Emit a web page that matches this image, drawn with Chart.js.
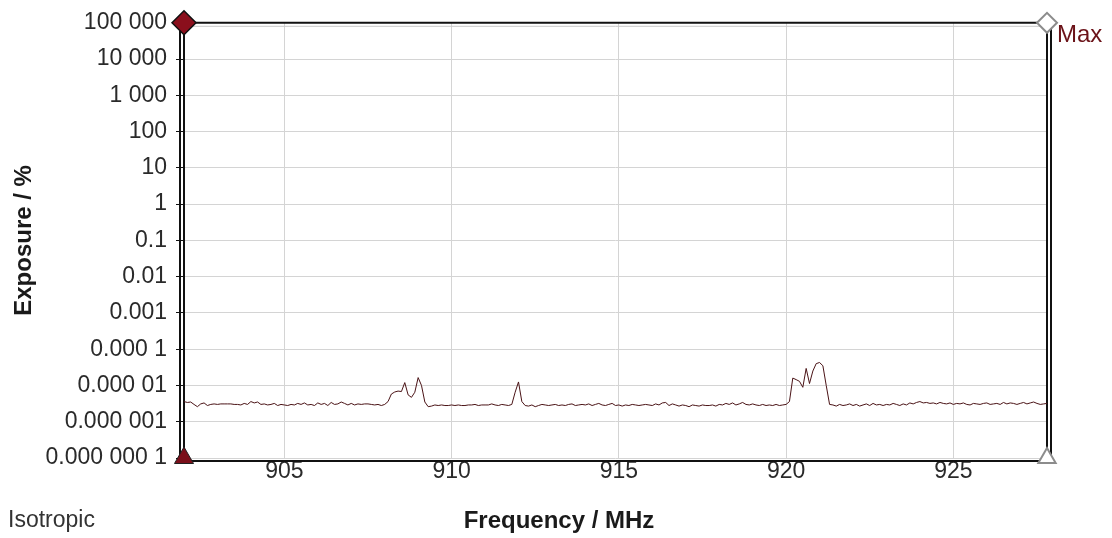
<!DOCTYPE html>
<html lang="en">
  <head>
    <meta charset="UTF-8" />
    <title>Exposure / % vs Frequency / MHz</title>
    <script src="https://cdn.jsdelivr.net/npm/chart.js"></script>
    <style>
      html, body { margin: 0; padding: 0; background: #fff; }
      .chart-container { position: relative; width: 1112px; height: 538px; }
    </style>
  </head>
  <body>
    <div class="chart-container">
      <canvas id="exposureChart"></canvas>
    </div>

    <script>
      // frequency points, MHz
      var freq = [
        902.0, 902.1, 902.2, 902.3, 902.4, 902.5, 902.6, 902.7, 902.8, 902.9,
        903.0, 903.1, 903.2, 903.3, 903.4, 903.5, 903.6, 903.7, 903.8, 903.9,
        904.0, 904.1, 904.2, 904.3, 904.4, 904.5, 904.6, 904.7, 904.8, 904.9,
        905.0, 905.1, 905.2, 905.3, 905.4, 905.5, 905.6, 905.7, 905.8, 905.9,
        906.0, 906.1, 906.2, 906.3, 906.4, 906.5, 906.6, 906.7, 906.8, 906.9,
        907.0, 907.1, 907.2, 907.3, 907.4, 907.5, 907.6, 907.7, 907.8, 907.9,
        908.0, 908.1, 908.2, 908.3, 908.4, 908.5, 908.6, 908.7, 908.8, 908.9,
        909.0, 909.1, 909.2, 909.3, 909.4, 909.5, 909.6, 909.7, 909.8, 909.9,
        910.0, 910.1, 910.2, 910.3, 910.4, 910.5, 910.6, 910.7, 910.8, 910.9,
        911.0, 911.1, 911.2, 911.3, 911.4, 911.5, 911.6, 911.7, 911.8, 911.9,
        912.0, 912.1, 912.2, 912.3, 912.4, 912.5, 912.6, 912.7, 912.8, 912.9,
        913.0, 913.1, 913.2, 913.3, 913.4, 913.5, 913.6, 913.7, 913.8, 913.9,
        914.0, 914.1, 914.2, 914.3, 914.4, 914.5, 914.6, 914.7, 914.8, 914.9,
        915.0, 915.1, 915.2, 915.3, 915.4, 915.5, 915.6, 915.7, 915.8, 915.9,
        916.0, 916.1, 916.2, 916.3, 916.4, 916.5, 916.6, 916.7, 916.8, 916.9,
        917.0, 917.1, 917.2, 917.3, 917.4, 917.5, 917.6, 917.7, 917.8, 917.9,
        918.0, 918.1, 918.2, 918.3, 918.4, 918.5, 918.6, 918.7, 918.8, 918.9,
        919.0, 919.1, 919.2, 919.3, 919.4, 919.5, 919.6, 919.7, 919.8, 919.9,
        920.0, 920.1, 920.2, 920.3, 920.4, 920.5, 920.6, 920.7, 920.8, 920.9,
        921.0, 921.1, 921.2, 921.3, 921.4, 921.5, 921.6, 921.7, 921.8, 921.9,
        922.0, 922.1, 922.2, 922.3, 922.4, 922.5, 922.6, 922.7, 922.8, 922.9,
        923.0, 923.1, 923.2, 923.3, 923.4, 923.5, 923.6, 923.7, 923.8, 923.9,
        924.0, 924.1, 924.2, 924.3, 924.4, 924.5, 924.6, 924.7, 924.8, 924.9,
        925.0, 925.1, 925.2, 925.3, 925.4, 925.5, 925.6, 925.7, 925.8, 925.9,
        926.0, 926.1, 926.2, 926.3, 926.4, 926.5, 926.6, 926.7, 926.8, 926.9,
        927.0, 927.1, 927.2, 927.3, 927.4, 927.5, 927.6, 927.7, 927.8
      ];

      // max exposure, %
      var exposure = [
        3.6e-6, 3.4e-6, 3.5e-6, 3.0e-6, 2.6e-6, 3.1e-6, 3.3e-6, 2.8e-6, 3.0e-6, 3.1e-6,
        3.0e-6, 3.1e-6, 3.1e-6, 3.1e-6, 3.1e-6, 3.0e-6, 3.0e-6, 2.9e-6, 3.2e-6, 3.0e-6,
        3.6e-6, 3.3e-6, 3.5e-6, 3.0e-6, 3.1e-6, 2.9e-6, 3.0e-6, 3.2e-6, 2.8e-6, 3.0e-6,
        2.9e-6, 2.8e-6, 3.0e-6, 2.9e-6, 3.2e-6, 3.0e-6, 3.3e-6, 2.9e-6, 3.0e-6, 2.8e-6,
        3.3e-6, 3.0e-6, 3.2e-6, 2.8e-6, 3.4e-6, 3.0e-6, 3.1e-6, 3.5e-6, 3.2e-6, 2.9e-6,
        3.2e-6, 2.9e-6, 3.1e-6, 3.0e-6, 3.1e-6, 3.1e-6, 3.0e-6, 2.9e-6, 3.0e-6, 2.8e-6,
        3.0e-6, 3.6e-6, 5.8e-6, 6.6e-6, 7.0e-6, 6.8e-6, 12.0e-6, 5.5e-6, 4.7e-6, 6.5e-6,
        16.5e-6, 10.0e-6, 3.5e-6, 2.6e-6, 2.7e-6, 2.9e-6, 2.8e-6, 2.9e-6, 2.8e-6, 2.8e-6,
        2.9e-6, 2.8e-6, 2.9e-6, 2.8e-6, 2.8e-6, 2.9e-6, 2.9e-6, 3.0e-6, 2.8e-6, 2.9e-6,
        2.9e-6, 2.9e-6, 3.1e-6, 2.9e-6, 2.8e-6, 3.0e-6, 2.9e-6, 2.8e-6, 3.0e-6, 6.5e-6,
        12.5e-6, 3.6e-6, 2.8e-6, 2.7e-6, 2.9e-6, 2.6e-6, 2.8e-6, 3.0e-6, 2.9e-6, 2.8e-6,
        2.9e-6, 3.0e-6, 2.8e-6, 2.9e-6, 2.8e-6, 3.0e-6, 3.1e-6, 2.8e-6, 2.9e-6, 3.0e-6,
        2.9e-6, 3.1e-6, 2.8e-6, 3.0e-6, 3.2e-6, 2.9e-6, 2.8e-6, 3.0e-6, 3.2e-6, 2.8e-6,
        2.9e-6, 2.7e-6, 2.9e-6, 2.8e-6, 3.0e-6, 2.9e-6, 2.8e-6, 2.9e-6, 3.0e-6, 2.9e-6,
        2.8e-6, 3.1e-6, 2.9e-6, 3.3e-6, 3.4e-6, 2.8e-6, 3.1e-6, 2.9e-6, 2.7e-6, 2.9e-6,
        2.8e-6, 2.6e-6, 2.9e-6, 2.8e-6, 2.7e-6, 2.9e-6, 2.8e-6, 2.8e-6, 2.9e-6, 2.7e-6,
        3.0e-6, 2.9e-6, 3.2e-6, 3.0e-6, 3.3e-6, 2.9e-6, 3.1e-6, 3.4e-6, 3.0e-6, 2.9e-6,
        3.1e-6, 2.9e-6, 2.8e-6, 3.0e-6, 2.8e-6, 2.9e-6, 2.8e-6, 3.0e-6, 2.8e-6, 2.9e-6,
        3.0e-6, 3.6e-6, 16.0e-6, 14.5e-6, 13.0e-6, 8.9e-6, 29.5e-6, 11.3e-6, 25.0e-6, 40.0e-6,
        43.0e-6, 35.0e-6, 10.0e-6, 3.0e-6, 2.9e-6, 2.7e-6, 3.0e-6, 2.8e-6, 2.9e-6, 3.1e-6,
        2.8e-6, 3.0e-6, 2.7e-6, 2.9e-6, 3.1e-6, 2.8e-6, 3.2e-6, 2.9e-6, 3.0e-6, 2.8e-6,
        3.0e-6, 2.9e-6, 3.2e-6, 3.0e-6, 2.8e-6, 3.1e-6, 2.9e-6, 3.3e-6, 3.1e-6, 3.4e-6,
        3.6e-6, 3.3e-6, 3.4e-6, 3.2e-6, 3.3e-6, 3.1e-6, 3.4e-6, 3.2e-6, 3.1e-6, 3.3e-6,
        3.0e-6, 3.2e-6, 3.1e-6, 3.3e-6, 3.0e-6, 2.9e-6, 3.2e-6, 3.1e-6, 3.0e-6, 3.2e-6,
        3.3e-6, 3.0e-6, 3.1e-6, 3.2e-6, 3.0e-6, 3.4e-6, 3.1e-6, 3.3e-6, 3.2e-6, 3.0e-6,
        3.2e-6, 3.4e-6, 3.1e-6, 3.3e-6, 3.5e-6, 3.2e-6, 3.0e-6, 3.1e-6, 3.2e-6
      ];

      var xTickValues = [905, 910, 915, 920, 925];
      var yTickValues = [1e5, 1e4, 1e3, 100, 10, 1, 0.1, 0.01, 0.001, 1e-4, 1e-5, 1e-6, 1e-7];
      var yTickLabels = [
        "100 000", "10 000", "1 000", "100", "10", "1", "0.1", "0.01",
        "0.001", "0.000 1", "0.000 01", "0.000 001", "0.000 000 1"
      ];

      // cursor markers: start/stop frequency, top/bottom level
      var cursorFreq = [902.0, 927.8];
      var cursorLevel = [1e5, 1e-7];

      var FONT = "'Liberation Sans', Arial, sans-serif";

      var framePlugin = {
        id: "frame",
        beforeDatasetsDraw: function (chart) {
          var ctx = chart.ctx;
          var a = chart.chartArea;
          ctx.save();
          ctx.strokeStyle = "#111";
          ctx.lineWidth = 2;
          ctx.beginPath();
          // top
          ctx.moveTo(a.left - 4, a.top);
          ctx.lineTo(a.right + 4, a.top);
          // bottom
          ctx.moveTo(a.left - 4, a.bottom + 3);
          ctx.lineTo(a.right + 4, a.bottom + 3);
          // left double
          ctx.moveTo(a.left - 4, a.top);
          ctx.lineTo(a.left - 4, a.bottom + 3);
          ctx.moveTo(a.left, a.top);
          ctx.lineTo(a.left, a.bottom + 3);
          // right double
          ctx.moveTo(a.right, a.top);
          ctx.lineTo(a.right, a.bottom + 3);
          ctx.moveTo(a.right + 4, a.top);
          ctx.lineTo(a.right + 4, a.bottom + 3);
          ctx.stroke();
          ctx.strokeStyle = "#c8c8c8";
          ctx.lineWidth = 1;
          ctx.beginPath();
          ctx.moveTo(a.left, a.top + 3.5);
          ctx.lineTo(a.right, a.top + 3.5);
          ctx.stroke();
          ctx.restore();
        },
        afterDraw: function (chart) {
          var ctx = chart.ctx;
          var a = chart.chartArea;
          ctx.save();
          ctx.textBaseline = "middle";
          ctx.fillStyle = "#6b1218";
          ctx.font = "24px " + FONT;
          ctx.textAlign = "left";
          ctx.fillText("Max", a.right + 10, a.top + 13);
          ctx.fillStyle = "#333";
          ctx.font = "23px " + FONT;
          ctx.fillText("Isotropic", 8, 521);
          ctx.fillStyle = "#1a1a1a";
          ctx.font = "bold 24px " + FONT;
          ctx.textAlign = "center";
          ctx.fillText("Frequency / MHz", 559, 521);
          ctx.restore();
        },
      };

      var ctx = document.getElementById("exposureChart").getContext("2d");
      var exposureChart = new Chart(ctx, {
        type: "line",
        data: {
          labels: freq,
          datasets: [
            {
              type: "scatter",
              label: "Start cursor",
              data: [{ x: cursorFreq[0], y: cursorLevel[0] }],
              pointStyle: "rectRot",
              pointRadius: 12,
              backgroundColor: "#8a0f1c",
              borderColor: "#111",
              borderWidth: 1.5,
              clip: false,
              order: 0,
            },
            {
              type: "scatter",
              label: "Start cursor low",
              data: [{ x: cursorFreq[0], y: cursorLevel[1] }],
              pointStyle: "triangle",
              pointRadius: 11,
              backgroundColor: "#7a0f1a",
              borderColor: "#222",
              borderWidth: 1,
              clip: false,
              order: 0,
            },
            {
              type: "scatter",
              label: "Stop cursor",
              data: [{ x: cursorFreq[1], y: cursorLevel[0] }],
              pointStyle: "rectRot",
              pointRadius: 10,
              backgroundColor: "#fff",
              borderColor: "#8c8c8c",
              borderWidth: 2,
              clip: false,
              order: 0,
            },
            {
              type: "scatter",
              label: "Stop cursor low",
              data: [{ x: cursorFreq[1], y: cursorLevel[1] }],
              pointStyle: "triangle",
              pointRadius: 10,
              backgroundColor: "#fff",
              borderColor: "#8c8c8c",
              borderWidth: 2,
              clip: false,
              order: 0,
            },
            {
              label: "Max",
              data: exposure,
              borderColor: "#4a1316",
              borderWidth: 1,
              pointRadius: 0,
              tension: 0,
              fill: false,
              order: 1,
            },
          ],
        },
        options: {
          responsive: true,
          maintainAspectRatio: false,
          animation: false,
          layout: { padding: { top: 21, right: 65, bottom: 0, left: 0 } },
          plugins: {
            legend: { display: false },
            tooltip: { enabled: false },
          },
          scales: {
            x: {
              type: "linear",
              min: cursorFreq[0],
              max: cursorFreq[1],
              afterBuildTicks: function (scale) {
                scale.ticks = xTickValues.map(function (v) { return { value: v }; });
              },
              afterFit: function (scale) { scale.height = 80; },
              border: { display: false },
              grid: { color: "#d4d4d4", drawTicks: false },
              ticks: {
                padding: 0,
                color: "#2a2a2a",
                font: { family: FONT, size: 23 },
                maxRotation: 0,
              },
            },
            y: {
              type: "logarithmic",
              min: 1e-7,
              max: 1e5,
              afterBuildTicks: function (scale) {
                scale.ticks = yTickValues.map(function (v) { return { value: v }; });
              },
              afterFit: function (scale) { scale.width = 184; },
              border: { display: false },
              grid: { color: "#d4d4d4", tickColor: "#111", tickLength: 8 },
              title: {
                display: true,
                text: "Exposure / %",
                color: "#1a1a1a",
                font: { family: FONT, size: 24, weight: "bold" },
                padding: { top: 10, bottom: 0 },
              },
              ticks: {
                padding: 9,
                color: "#2a2a2a",
                font: { family: FONT, size: 23 },
                callback: function (value) {
                  var i = yTickValues.indexOf(value);
                  return i >= 0 ? yTickLabels[i] : "";
                },
              },
            },
          },
        },
        plugins: [framePlugin],
      });
    </script>
  </body>
</html>
